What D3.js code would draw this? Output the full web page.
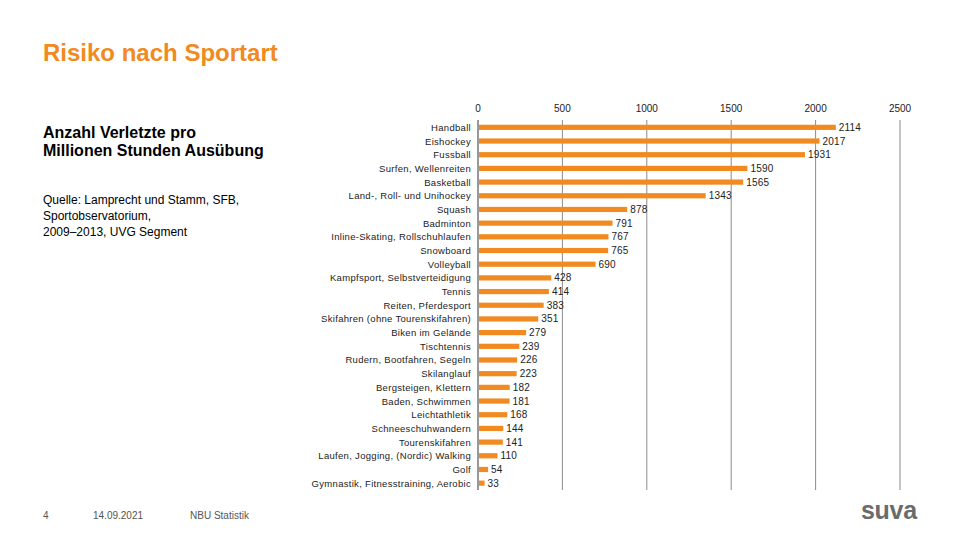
<!DOCTYPE html>
<html><head><meta charset="utf-8">
<script src="https://cdn.jsdelivr.net/npm/d3@7"></script>
<style>
body{margin:0;background:#fff;}
svg{display:block;font-family:"Liberation Sans",Arial,sans-serif;}
</style></head>
<body><svg id="c" width="960" height="540"></svg>
<script>
const categories = ["Handball","Eishockey","Fussball","Surfen, Wellenreiten","Basketball","Land-, Roll- und Unihockey","Squash","Badminton","Inline-Skating, Rollschuhlaufen","Snowboard","Volleyball","Kampfsport, Selbstverteidigung","Tennis","Reiten, Pferdesport","Skifahren (ohne Tourenskifahren)","Biken im Gelände","Tischtennis","Rudern, Bootfahren, Segeln","Skilanglauf","Bergsteigen, Klettern","Baden, Schwimmen","Leichtathletik","Schneeschuhwandern","Tourenskifahren","Laufen, Jogging, (Nordic) Walking","Golf","Gymnastik, Fitnesstraining, Aerobic"];
const values = [2114,2017,1931,1590,1565,1343,878,791,767,765,690,428,414,383,351,279,239,226,223,182,181,168,144,141,110,54,33];
const ticks = [0,500,1000,1500,2000,2500];

const svg = d3.select("#c");
const orange = "#F18A21";

svg.append("text").attr("x",43).attr("y",61).attr("fill",orange)
  .attr("font-size",24).attr("font-weight","bold").text("Risiko nach Sportart");

const sub = svg.append("text").attr("font-size",16).attr("font-weight","bold").attr("fill","#000");
sub.append("tspan").attr("x",43).attr("y",138).text("Anzahl Verletzte pro");
sub.append("tspan").attr("x",43).attr("y",156).text("Millionen Stunden Ausübung");

const src = svg.append("text").attr("font-size",12).attr("fill","#000");
["Quelle: Lamprecht und Stamm, SFB,","Sportobservatorium,","2009–2013, UVG Segment"].forEach((t,i)=>
  src.append("tspan").attr("x",43).attr("y",204+i*16).text(t));

const x = d3.scaleLinear().domain([0,2500]).range([478,900]);
const y = d3.scaleBand().domain(categories).range([120.5,490]).paddingInner(0.62).paddingOuter(0.31);

// grid
svg.append("g").selectAll("line").data(ticks).join("line")
  .attr("x1",d=>x(d)).attr("x2",d=>x(d)).attr("y1",120).attr("y2",490)
  .attr("stroke",d=>d===0?"#7f7f7f":"#8c8c8c").attr("stroke-width",d=>d===0?1.6:1);

// tick labels
svg.append("g").selectAll("text").data(ticks).join("text")
  .attr("x",d=>x(d)).attr("y",112).attr("text-anchor","middle")
  .attr("font-size",10).attr("fill","#222").text(d=>d);

// bars
svg.append("g").selectAll("rect").data(values).join("rect")
  .attr("x",x(0)+1).attr("y",(d,i)=>y(categories[i]))
  .attr("width",d=>x(d)-x(0)).attr("height",y.bandwidth())
  .attr("fill",orange);

// category labels
svg.append("g").selectAll("text").data(categories).join("text")
  .attr("x",471).attr("y",d=>y(d)+y.bandwidth()/2+3.5).attr("text-anchor","end")
  .attr("font-size",9.5).attr("letter-spacing",0.3).attr("fill","#222").text(d=>d);

// value labels
svg.append("g").selectAll("text").data(values).join("text")
  .attr("x",d=>x(d)+4).attr("y",(d,i)=>y(categories[i])+y.bandwidth()/2+3.5)
  .attr("font-size",10).attr("letter-spacing",0.2).attr("fill","#222").text(d=>d);

// footer
const foot = [["4",43],["14.09.2021",93],["NBU Statistik",190]];
svg.append("g").selectAll("text").data(foot).join("text")
  .attr("x",d=>d[1]).attr("y",519).attr("font-size",10).attr("fill","#555").text(d=>d[0]);

svg.append("text").attr("x",861).attr("y",519).attr("font-size",25).attr("font-weight","bold")
  .attr("fill","#6b6b6b").attr("letter-spacing",-0.3).text("suva");
</script></body></html>
